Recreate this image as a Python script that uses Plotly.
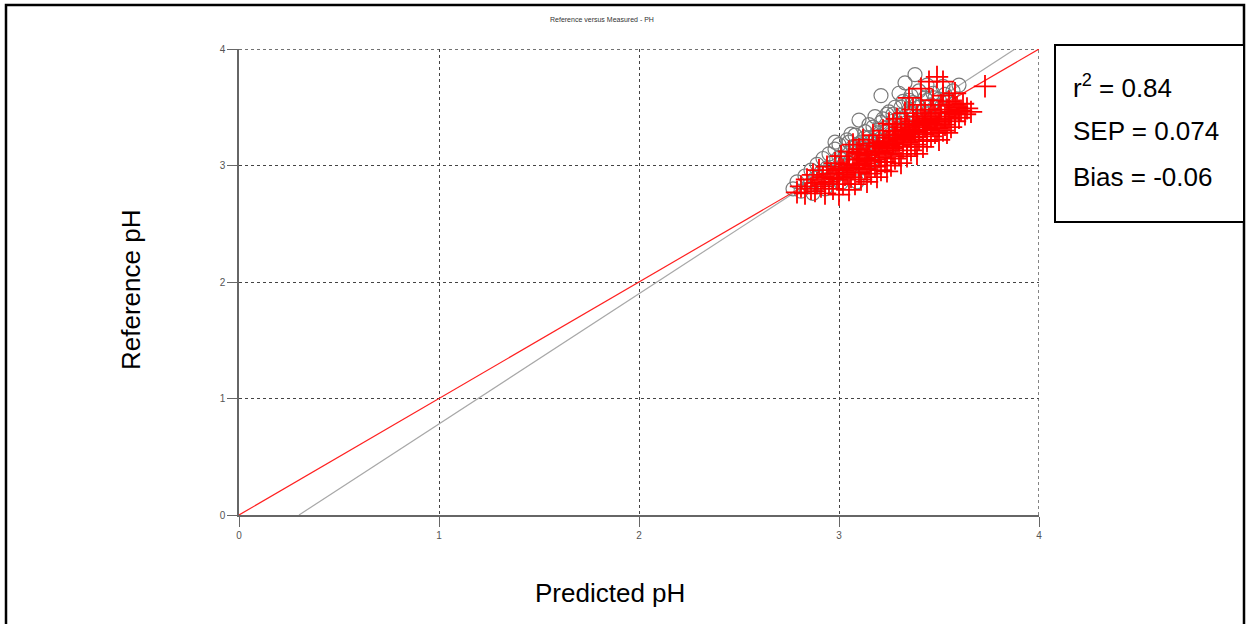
import plotly.graph_objects as go

# ---------------- data ----------------
title_text = "Reference versus Measured - PH"
x_title = "Predicted pH"
y_title = "Reference pH"
tick_vals = [0, 1, 2, 3, 4]
tick_text = ["0", "1", "2", "3", "4"]

# identity (target) line and regression line
ident_x = [0, 4]
ident_y = [0, 4]
fit_x = [0.30, 3.88]
fit_y = [0, 4]

# calibration samples (open grey circles)
cal_pred = [2.77, 2.79, 2.81, 2.83, 2.85, 2.86, 2.87, 2.88, 2.89, 2.90, 2.91, 2.92, 2.93, 2.94,
            2.95, 2.96, 2.97, 2.98, 2.99, 3.00, 3.00, 3.01, 3.02, 3.03, 3.04, 3.05, 3.06, 3.07,
            3.08, 3.09, 3.10, 3.10, 3.11, 3.12, 3.13, 3.14, 3.15, 3.16, 3.17, 3.18, 3.19, 3.20,
            3.21, 3.21, 3.22, 3.23, 3.24, 3.25, 3.26, 3.27, 3.28, 3.29, 3.30, 3.31, 3.32, 3.33,
            3.33, 3.34, 3.35, 3.36, 3.37, 3.38, 3.38, 3.39, 3.40, 3.41, 3.42, 3.43, 3.44, 3.45,
            3.46, 3.47, 3.48, 3.50, 3.51, 3.53, 3.55, 3.60, 3.57, 3.52,
            2.95, 3.02, 3.08, 3.12, 3.16, 3.20, 3.24, 3.28, 3.32, 3.36, 3.40, 3.05, 3.15, 3.25,
            3.35, 3.30, 3.18, 3.06, 2.98, 3.09, 3.13, 3.22, 3.27, 3.31, 3.37, 3.44, 3.48]
cal_ref = [2.80, 2.86, 2.78, 2.91, 2.83, 2.96, 2.76, 2.89, 3.01, 2.84, 2.94, 3.06, 2.80, 2.98,
           3.10, 2.88, 3.03, 3.14, 2.92, 3.07, 3.18, 2.85, 3.00, 3.12, 3.22, 2.95, 3.05, 3.16,
           3.26, 2.86, 3.39, 3.10, 3.20, 2.98, 3.29, 3.14, 3.24, 3.04, 3.33, 3.18, 3.28, 3.08,
           3.37, 3.60, 3.22, 3.32, 3.44, 3.14, 3.27, 3.38, 3.50, 3.20, 3.32, 3.43, 3.55, 3.71,
           3.26, 3.37, 3.48, 3.60, 3.30, 3.78, 3.42, 3.53, 3.64, 3.36, 3.47, 3.58, 3.69, 3.41,
           3.52, 3.62, 3.46, 3.57, 3.50, 3.61, 3.55, 3.69, 3.64, 3.68,
           2.95, 3.05, 3.12, 3.15, 3.20, 3.25, 3.30, 3.35, 3.40, 3.45, 3.50, 3.20, 3.35, 3.46,
           3.56, 3.62, 3.42, 3.27, 3.20, 3.18, 3.24, 3.40, 3.44, 3.50, 3.54, 3.56, 3.58]

# validation samples (red crosses)
val_pred = [2.79, 2.81, 2.83, 2.84, 2.86,
            2.87, 2.88, 2.89, 2.90, 2.91, 2.92, 2.93, 2.94, 2.95,
            2.96, 2.97, 2.98, 2.99, 3.00, 3.00, 3.01, 3.02, 3.03, 3.04, 3.05, 3.05,
            3.06, 3.07, 3.07, 3.08, 3.09, 3.10, 3.10, 3.11, 3.12, 3.12, 3.13, 3.14, 3.14, 3.15,
            3.16, 3.16, 3.17, 3.18, 3.18, 3.19, 3.20, 3.20, 3.21, 3.22, 3.22, 3.23, 3.24, 3.24, 3.25, 3.25,
            3.26, 3.27, 3.27, 3.28, 3.28, 3.29, 3.30, 3.30, 3.31, 3.31, 3.32, 3.33, 3.33, 3.34, 3.34, 3.35, 3.35,
            3.36, 3.36, 3.37, 3.37, 3.38, 3.38, 3.39, 3.39, 3.40, 3.40, 3.41, 3.41, 3.42, 3.42, 3.43, 3.43,
            3.44, 3.44, 3.45, 3.45,
            3.46, 3.46, 3.47, 3.47, 3.48, 3.48, 3.49, 3.49, 3.50, 3.50, 3.51, 3.51, 3.52, 3.52, 3.53, 3.53,
            3.54, 3.54, 3.55, 3.55,
            3.56, 3.56, 3.57, 3.58, 3.58, 3.59, 3.60, 3.61, 3.62, 3.63, 3.64, 3.66,
            3.73, 3.52, 3.58,
            3.02, 3.08, 3.13, 3.18, 3.21, 3.23, 3.26, 3.29, 3.32, 3.34, 3.37, 3.40, 3.43, 3.46, 3.49,
            3.11, 3.15, 3.19, 3.24, 3.28, 3.31, 3.35, 3.38, 3.42, 3.05, 2.97, 3.09, 3.17, 3.27,
            2.93, 3.00, 3.04, 3.10, 3.14, 3.20, 3.25, 3.29, 3.33, 3.39, 3.44, 3.50, 3.55, 3.60]
val_ref = [2.77, 2.82, 2.76, 2.88, 2.80,
           2.92, 2.78, 2.85, 2.96, 2.82, 2.90, 2.76, 2.99, 2.86,
           2.93, 2.80, 3.02, 2.88, 2.97, 2.75, 3.08, 2.84, 2.92, 3.01, 2.79, 3.12,
           2.90, 2.98, 3.18, 2.84, 3.05, 2.94, 3.14, 2.88, 3.02, 3.22, 2.97, 3.09, 2.86, 3.17,
           2.93, 3.04, 3.26, 2.99, 3.12, 2.90, 3.07, 3.20, 2.96, 3.15, 3.30, 3.03, 3.10, 2.95, 3.24, 3.36,
           3.00, 3.13, 3.19, 3.06, 3.29, 3.40, 3.10, 3.22, 3.02, 3.33, 3.16, 3.26, 3.45, 3.08, 3.20, 3.31, 3.58,
           3.13, 3.24, 3.38, 3.48, 3.18, 3.29, 3.10, 3.42, 3.22, 3.34, 3.52, 3.66, 3.16, 3.27, 3.38, 3.45,
           3.21, 3.31, 3.40, 3.72,
           3.25, 3.48, 3.35, 3.56, 3.28, 3.42, 3.76, 3.32, 3.45, 3.22, 3.38, 3.52, 3.30, 3.60, 3.42, 3.35,
           3.48, 3.28, 3.55, 3.40,
           3.33, 3.46, 3.52, 3.38, 3.44, 3.50, 3.41, 3.47, 3.53, 3.44, 3.49, 3.46,
           3.68, 3.72, 3.62,
           2.96, 3.00, 3.06, 3.05, 3.11, 3.18, 3.15, 3.18, 3.23, 3.36, 3.28, 3.30, 3.33, 3.36, 3.40,
           3.10, 3.00, 3.16, 3.21, 3.24, 3.27, 3.25, 3.35, 3.39, 2.98, 2.89, 3.11, 3.19, 3.35,
           2.84, 2.90, 2.94, 3.01, 3.04, 3.12, 3.17, 3.26, 3.30, 3.36, 3.37, 3.35, 3.45, 3.47]

stats_lines = ["r<sup>2</sup> = 0.84", "SEP = 0.074", "Bias = -0.06"]

# ---------------- layout geometry (pixels) ----------------
W, H = 1247, 624
PL, PR, PT, PB = 239, 1039, 49, 515  # plot area in pixels


def px(x):
    return (x - PL) / (PR - PL)


def py(y):
    return (PB - y) / (PB - PT)


fig = go.Figure()

fig.add_trace(go.Scatter(x=fit_x, y=fit_y, mode="lines",
                         line=dict(color="#a8a8a8", width=1.2), hoverinfo="skip"))
fig.add_trace(go.Scatter(x=cal_pred, y=cal_ref, mode="markers",
                         marker=dict(symbol="circle-open", size=14,
                                     line=dict(color="#7a7a7a", width=1.2), color="#7a7a7a")))
fig.add_trace(go.Scatter(x=ident_x, y=ident_y, mode="lines",
                         line=dict(color="#ff2020", width=1.2), hoverinfo="skip"))
fig.add_trace(go.Scatter(x=val_pred, y=val_ref, mode="markers",
                         marker=dict(symbol="cross-thin-open", size=16,
                                     line=dict(color="#ff0000", width=1.8), color="#ff0000")))

axis_common = dict(
    range=[0, 4], tickvals=tick_vals, ticktext=tick_text,
    showgrid=True, gridcolor="#444444", gridwidth=1.3, griddash="dot",
    showline=True, linecolor="#666666", linewidth=1.5,
    ticks="outside", ticklen=10, tickcolor="#666666", tickwidth=1.2,
    tickfont=dict(family="Liberation Sans, Arial", size=10, color="#555555"),
    zeroline=False, fixedrange=True,
)

fig.update_layout(
    width=W, height=H,
    margin=dict(l=PL, r=W - PR, t=PT, b=H - PB, pad=0),
    paper_bgcolor="white", plot_bgcolor="rgba(0,0,0,0)",
    showlegend=False,
    xaxis=dict(**axis_common),
    yaxis=dict(**axis_common),
    font=dict(family="Liberation Sans, Arial", color="black"),
)

edge = tick_vals[-1]
shapes = [
    # dotted grid lines along the far edges (x = 4, y = 4)
    dict(type="line", xref="x", yref="y", x0=edge, x1=edge, y0=tick_vals[0], y1=edge,
         line=dict(color="#444444", width=1.3, dash="dot"), layer="below"),
    dict(type="line", xref="x", yref="y", x0=tick_vals[0], x1=edge, y0=edge, y1=edge,
         line=dict(color="#444444", width=1.3, dash="dot"), layer="below"),
    # outer frame
    dict(type="rect", xref="paper", yref="paper",
         x0=px(6), x1=px(1244), y0=py(634), y1=py(5),
         line=dict(color="black", width=2.5), fillcolor="rgba(0,0,0,0)"),
    # stats box
    dict(type="rect", xref="paper", yref="paper",
         x0=px(1055), x1=px(1244), y0=py(222), y1=py(45),
         line=dict(color="black", width=2), fillcolor="white"),
]

annotations = [
    dict(text=title_text, x=px(602), y=py(19), xref="paper", yref="paper",
         showarrow=False, xanchor="center", yanchor="middle",
         font=dict(size=7, color="#333333")),
    dict(text=x_title, x=px(610), y=py(593), xref="paper", yref="paper",
         showarrow=False, xanchor="center", yanchor="middle",
         font=dict(size=26, color="black")),
    dict(text=y_title, x=px(131), y=py(290), xref="paper", yref="paper",
         showarrow=False, xanchor="center", yanchor="middle", textangle=-90,
         font=dict(size=26, color="black")),
]
for line, ycen in zip(stats_lines, [86, 131, 177]):
    annotations.append(dict(text=line, x=px(1071), y=py(ycen), xref="paper", yref="paper",
                            showarrow=False, xanchor="left", yanchor="middle",
                            font=dict(size=26, color="black")))

fig.update_layout(shapes=shapes, annotations=annotations)

fig.write_html("out.html", config={"displayModeBar": False})
